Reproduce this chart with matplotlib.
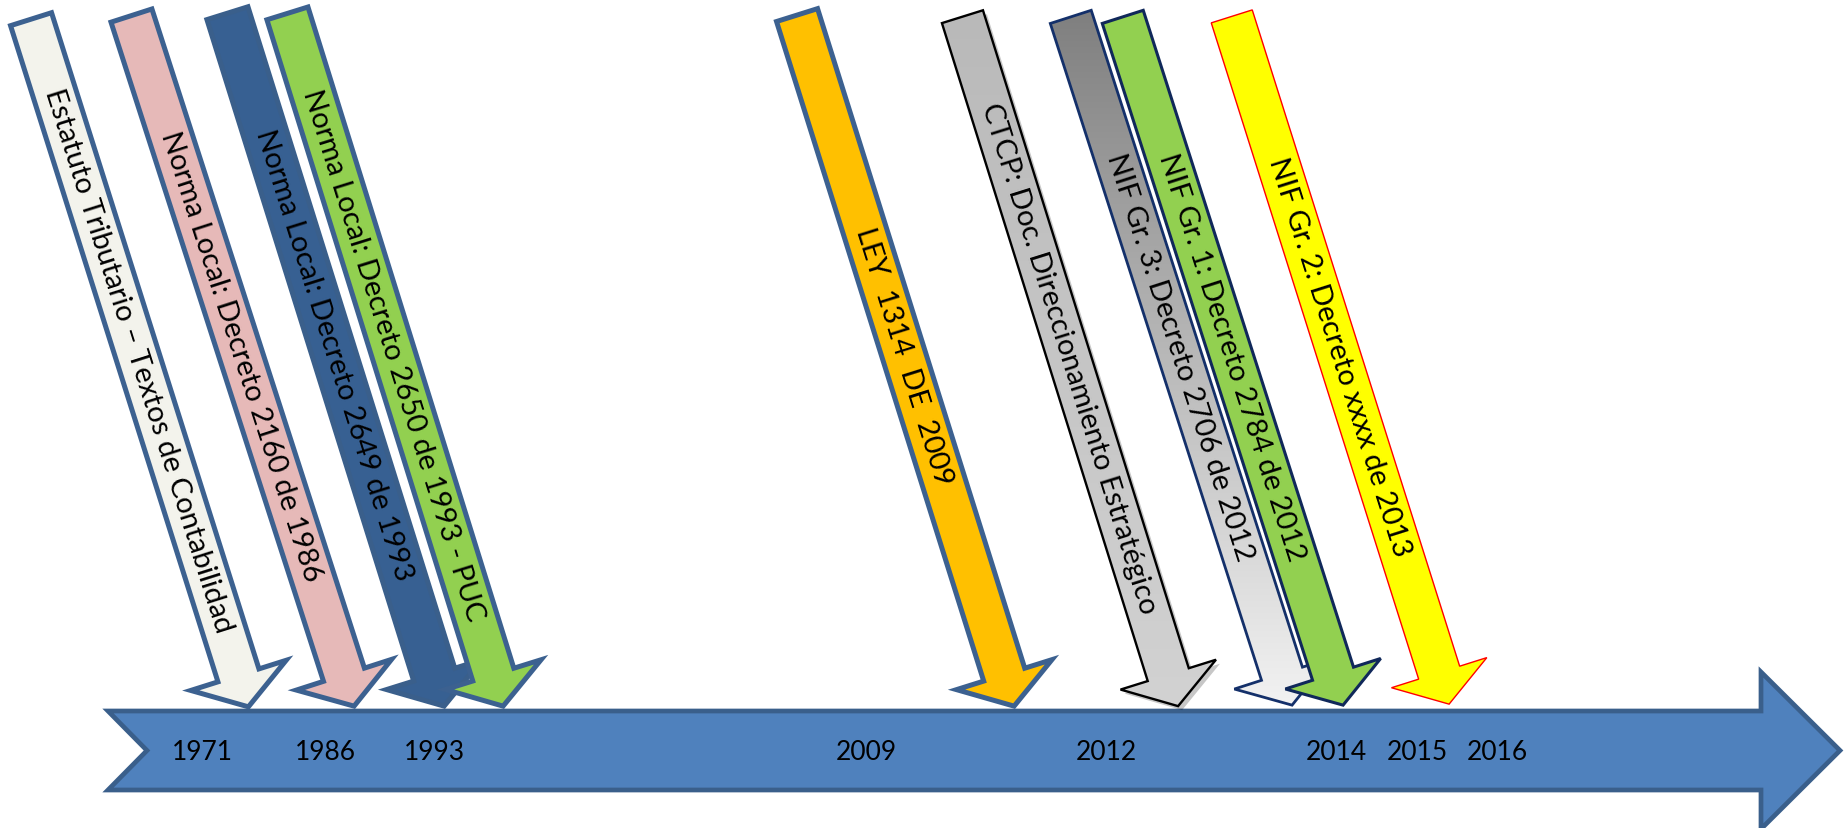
import numpy as np
import matplotlib
matplotlib.use('Agg')
import matplotlib.pyplot as plt
from matplotlib.patches import Polygon
from matplotlib.colors import LinearSegmentedColormap

# ---------------- data ----------------
years = ['1971', '1986', '1993', '2009', '2012', '2014', '2015', '2016']
events = [
    'Estatuto Tributario – Textos de Contabilidad',
    'Norma Local: Decreto 2160 de 1986',
    'Norma Local: Decreto 2649 de 1993',
    'Norma Local: Decreto 2650 de 1993 - PUC',
    'LEY  1314  DE  2009',
    'CTCP: Doc. Direccionamiento Estratégico',
    'NIF Gr. 3: Decreto 2706 de 2012',
    'NIF Gr. 1: Decreto 2784 de 2012',
    'NIF Gr. 2: Decreto xxxx de 2013',
]

# ---------------- layout (pixel space) ----------------
W, H = 1845, 829
year_x = [202, 325, 434, 866, 1106, 1336, 1417, 1497]
year_y = 753
tail_x = [30.3, 130.7, 226.7, 286.7, 796.3, 961.7, 1070, 1122, 1231]
tail_y = [17.8, 14.2, 11.8, 12.0, 13.7, 15.3, 15.5, 15.5, 15.0]
tip_x = [249.3, 355, 445, 504, 1015, 1179, 1293, 1344, 1450]
tip_y = [710.7, 710, 710, 710, 710, 710, 709, 709, 708]

# ---------------- styles ----------------
BLUE_EDGE = '#3C6190'
fills = ['#F3F3EC', '#E6B9B8', '#376092', '#92D050', '#FFC000',
         ('#B9B9B9', '#D2D2D2'), ('#7F7F7F', '#F2F2F2'), '#92D050', '#FFFF00']
edges = [BLUE_EDGE, BLUE_EDGE, '#3A5F8B', BLUE_EDGE, BLUE_EDGE,
         '#000000', '#14306A', '#10285A', '#FF0000']
lws = [3.6, 3.6, 3.6, 3.6, 3.6, 1.7, 2.0, 2.2, 1.0]
shadow = [False, False, False, False, False, True, False, False, False]

FONT = ['Lato', 'DejaVu Sans']

fig = plt.figure(figsize=(W / 100, H / 100), dpi=100)
ax = fig.add_axes([0, 0, 1, 1])
ax.set_xlim(0, W)
ax.set_ylim(H, 0)
ax.axis('off')

# ---------------- main timeline arrow ----------------
body_l, body_t, body_b = 108, 712, 791
notch_x = 147
head_x, head_t, head_b, tip_mx = 1761, 673, 830, 1840
cy = (body_t + body_b) / 2
main_pts = [(body_l, body_t), (head_x, body_t), (head_x, head_t), (tip_mx, cy),
            (head_x, head_b), (head_x, body_b), (body_l, body_b), (notch_x, cy)]
ax.add_patch(Polygon(main_pts, closed=True, facecolor='#4F81BD',
                     edgecolor='#3A5F8B', linewidth=3.4, joinstyle='miter', zorder=1))

for y, xx in zip(years, year_x):
    ax.text(xx, year_y, y, ha='center', va='center', fontsize=19,
            family=FONT, color='black', zorder=2)


def arrow_pts(cx, cy_, tx, ty, ws=21.5, wh=50.0, hl=33.0, inset_t=2.5, inset_h=3.0):
    c = np.array([cx, cy_], float)
    t = np.array([tx, ty], float)
    u = (t - c) / np.linalg.norm(t - c)
    c = c + u * inset_t
    t = t - u * inset_h
    L = np.linalg.norm(t - c)
    n = np.array([u[1], -u[0]])
    b = c + u * (L - hl)
    pts = [c - n * ws, c + n * ws, b + n * ws, b + n * wh, t,
           b - n * wh, b - n * ws]
    return np.array(pts), u, c, L


for i in range(len(events)):
    pts, u, c, L = arrow_pts(tail_x[i], tail_y[i], tip_x[i], tip_y[i])
    z = 3 + i * 2
    if shadow[i]:
        ax.add_patch(Polygon(pts + np.array([4, 4]), closed=True, facecolor='#000000',
                             edgecolor='none', alpha=0.22, zorder=z - 0.5))
    f = fills[i]
    if isinstance(f, tuple):
        poly = Polygon(pts, closed=True, facecolor='none', edgecolor=edges[i],
                       linewidth=lws[i], joinstyle='miter', zorder=z + 0.2)
        clip = Polygon(pts, closed=True, facecolor='none', edgecolor='none',
                       transform=ax.transData)
        cmap = LinearSegmentedColormap.from_list('g%d' % i, [f[0], f[1]])
        ymin, ymax = pts[:, 1].min(), pts[:, 1].max()
        xmin, xmax = pts[:, 0].min(), pts[:, 0].max()
        grad = np.linspace(0, 1, 256).reshape(-1, 1)
        im = ax.imshow(grad, cmap=cmap, extent=(xmin, xmax, ymax, ymin),
                       origin='upper', aspect='auto', zorder=z, interpolation='bilinear')
        ax.add_patch(clip)
        im.set_clip_path(clip)
        ax.add_patch(poly)
    else:
        ax.add_patch(Polygon(pts, closed=True, facecolor=f, edgecolor=edges[i],
                             linewidth=lws[i], joinstyle='miter', zorder=z))
    ang = np.degrees(np.arctan2(-u[1], u[0]))
    pos = c + u * 357
    ax.text(pos[0], pos[1], events[i], rotation=ang, rotation_mode='anchor',
            ha='center', va='center', fontsize=21, family=FONT, color='black',
            zorder=z + 0.5)

ax.set_xlim(0, W)
ax.set_ylim(H, 0)
fig.savefig('out.png', dpi=100)
